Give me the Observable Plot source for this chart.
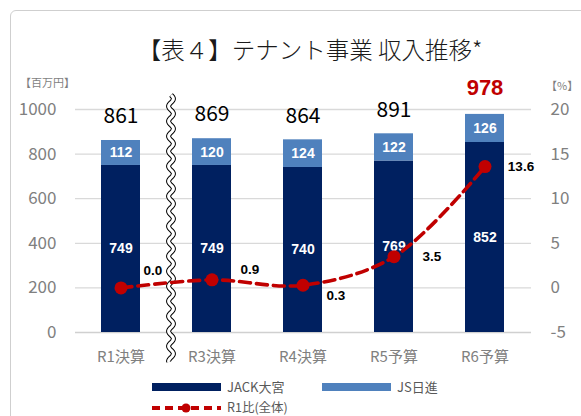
<!DOCTYPE html>
<html>
<head>
<meta charset="utf-8">
<script src="https://cdn.jsdelivr.net/npm/d3@7"></script>
<script src="https://cdn.jsdelivr.net/npm/@observablehq/plot@0.6"></script>
<style>
  html, body { margin: 0; padding: 0; background: #fff; }
  #root { position: relative; width: 581px; height: 416px; overflow: hidden; background: #fff;
          font-family: "Noto Sans CJK JP", "Noto Sans", sans-serif; }
  .frame { position: absolute; left: 10px; top: 10px; width: 640px; height: 480px;
           border: 1px solid #cfcfcf; border-radius: 6px; }
  .abs { position: absolute; white-space: nowrap; }
  #title { left: 0; width: 620px; top: 34px; text-align: center; font-size: 23.5px; font-weight: 300; color: #1a1a1a; line-height: 30px; }
  #unitL { left: 20px; top: 73px; font-size: 11px; color: #7f7f7f; line-height: 18px; }
  #unitR { left: 546px; top: 76px; font-size: 11px; color: #7f7f7f; line-height: 18px; }
  #chart { left: 0; top: 0; }
  .leg { font-size: 13px; color: #595959; line-height: 14px; }
</style>
</head>
<body>
<div id="root">
  <div class="frame"></div>
  <div id="chart" class="abs"></div>
  <div id="title" class="abs">【表４】テナント事業 収入推移*</div>
  <div id="unitL" class="abs">【百万円】</div>
  <div id="unitR" class="abs">【%】</div>
  <div id="legend"></div>
</div>
<script>
// ---- data ----
const categories = ["R1決算", "R3決算", "R4決算", "R5予算", "R6予算"];
const seriesNames = ["JACK大宮", "JS日進"];
const jackValues = [749, 749, 740, 769, 852];
const jsValues = [112, 120, 124, 122, 126];
const r1Ratio = [0.0, 0.9, 0.3, 3.5, 13.6];
const lineName = "R1比(全体)";
const leftTicks = [0, 200, 400, 600, 800, 1000];
const rightTicks = [-5, 0, 5, 10, 15, 20];

// ---- styles ----
const navy = "#002060", lightBlue = "#4f81bd", red = "#c00000";
const ratioLabelOffsets = [[32, -17], [38, -10], [33, 10], [38, 0], [36, 0]];

// right axis (%) mapped onto left domain: -5..20 -> 0..1000
const pctToLeft = p => (p + 5) * 40;
const leftToPct = v => v / 40 - 5;

const rows = categories.flatMap((c, i) => [
  {cat: c, series: seriesNames[0], value: jackValues[i], mid: jackValues[i] / 2},
  {cat: c, series: seriesNames[1], value: jsValues[i], mid: jackValues[i] + jsValues[i] / 2}
]);
const totals = categories.map((c, i) => ({cat: c, total: jackValues[i] + jsValues[i], last: i === categories.length - 1}));
const ratioRows = categories.map((c, i) => ({cat: c, pct: r1Ratio[i], yv: pctToLeft(r1Ratio[i])}));

function breakMark(index, scales, values, dimensions) {
  const sx = scales.x, sy = scales.y;
  let bw = 0;
  if (typeof sx.bandwidth === "function") bw = sx.bandwidth();
  else if (typeof sx.bandwidth === "number") bw = sx.bandwidth;
  else if (scales.scales && scales.scales.x) bw = scales.scales.x.bandwidth || 0;
  const cx = (sx(categories[0]) + sx(categories[1])) / 2 + bw / 2 + 5;
  const top = sy(1000) - 14, bottom = sy(0) + 30;
  const pts = d3.range(top, bottom + 0.5, 0.5).map(y => [cx + 2.4 * Math.sin((y - top) / 15 * 2 * Math.PI), y]);
  const path = d3.line()(pts);
  const g = d3.create("svg:g");
  g.append("path").attr("d", path).attr("fill", "none").attr("stroke", "#000").attr("stroke-width", 5);
  g.append("path").attr("d", path).attr("fill", "none").attr("stroke", "#fff").attr("stroke-width", 3);
  return g.node();
}

const labelFont = "'Liberation Sans', Arial, sans-serif";

const marks = [
  Plot.gridY(leftTicks.filter(d => d > 0), {stroke: "#d9d9d9", strokeOpacity: 1, strokeWidth: 1.3}),
  Plot.ruleY([0], {stroke: "#d0d0d0", strokeWidth: 1.6}),
  Plot.axisY(leftTicks, {anchor: "left", tickSize: 0, tickPadding: 19, fontSize: 17, color: "#808080", label: null,
    tickFormat: d => String(d)}),
  Plot.axisY(rightTicks.map(pctToLeft), {anchor: "right", tickSize: 0, tickPadding: 19, fontSize: 17, color: "#808080",
    tickFormat: d => String(leftToPct(d)), label: null}),
  Plot.axisX({tickSize: 0, tickPadding: 19, fontSize: 15, color: "#808080", label: null}),
  Plot.barY(rows, {x: "cat", y: "value", fill: "series"}),
  Plot.text(rows, {x: "cat", y: "mid", text: d => String(d.value), fill: "#fff", fontSize: 14, fontWeight: "bold", fontFamily: labelFont}),
  Plot.text(totals.filter(d => !d.last), {x: "cat", y: "total", text: d => String(d.total), dy: -24, fontSize: 21, fill: "#000"}),
  Plot.text(totals.filter(d => d.last), {x: "cat", y: "total", text: d => String(d.total), dy: -26, fontSize: 22, fontWeight: "bold", fill: red, fontFamily: labelFont}),
  breakMark,
  Plot.line(ratioRows, {x: "cat", y: "yv", curve: "catmull-rom", stroke: red, strokeWidth: 3.6, strokeDasharray: "11,6"}),
  Plot.dot(ratioRows, {x: "cat", y: "yv", r: 6.5, fill: red, stroke: "none"}),
  ...ratioRows.map((d, i) => Plot.text([d], {x: "cat", y: "yv", text: r => r.pct.toFixed(1), dx: ratioLabelOffsets[i][0], dy: ratioLabelOffsets[i][1],
    fontSize: 13.5, fontWeight: "bold", fill: "#000", fontFamily: labelFont}))
];

const chart = Plot.plot({
  width: 581,
  height: 370,
  marginLeft: 75,
  marginRight: 50,
  marginTop: 109,
  marginBottom: 38,
  style: {background: "transparent", fontFamily: "'Noto Sans CJK JP', 'Noto Sans', sans-serif", overflow: "visible"},
  x: {domain: categories, paddingInner: 0.57, paddingOuter: 0.285, axis: null},
  y: {domain: [0, 1000], axis: null},
  color: {domain: seriesNames, range: [navy, lightBlue]},
  marks
});
document.getElementById("chart").appendChild(chart);

// ---- legend (HTML) ----
const legend = document.getElementById("legend");
function addSwatch(left, top, color, label) {
  const sw = document.createElement("div");
  sw.className = "abs";
  Object.assign(sw.style, {left: left + "px", top: (top - 4) + "px", width: "69px", height: "8px", background: color});
  legend.appendChild(sw);
  const tx = document.createElement("div");
  tx.className = "abs leg";
  Object.assign(tx.style, {left: (left + 75) + "px", top: (top - 7) + "px"});
  tx.textContent = label;
  legend.appendChild(tx);
}
addSwatch(152, 387, navy, seriesNames[0]);
addSwatch(322, 387, lightBlue, seriesNames[1]);
const ls = d3.create("svg").attr("width", 72).attr("height", 14)
  .style("position", "absolute").style("left", "151px").style("top", "401px");
ls.append("line").attr("x1", 1).attr("x2", 70).attr("y1", 7).attr("y2", 7)
  .attr("stroke", red).attr("stroke-width", 4).attr("stroke-dasharray", "8,5");
ls.append("circle").attr("cx", 35).attr("cy", 7).attr("r", 4.5).attr("fill", red);
legend.appendChild(ls.node());
const lt = document.createElement("div");
lt.className = "abs leg";
Object.assign(lt.style, {left: "227px", top: "400px", fontSize: "12.5px"});
lt.textContent = lineName;
legend.appendChild(lt);
</script>
</body>
</html>
